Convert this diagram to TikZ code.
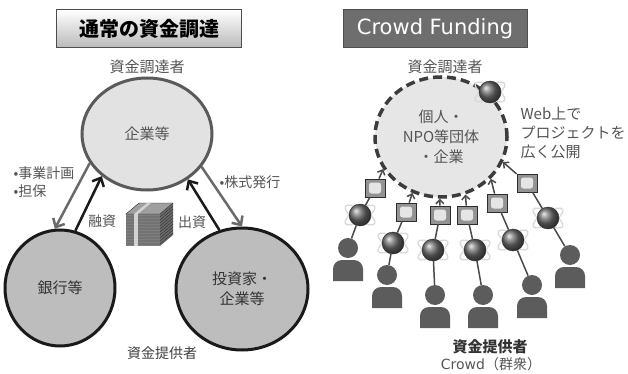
\documentclass[tikz,border=0pt]{standalone}
\usepackage{fontspec}
\setmainfont{Noto Sans CJK JP}
\newfontfamily\latinfont{DejaVu Sans}
\usetikzlibrary{shapes.geometric,arrows.meta}
\definecolor{txtgray}{HTML}{555555}
\definecolor{boxdark}{HTML}{6E6E6E}
\definecolor{boxline}{HTML}{4E4E4E}
\definecolor{corpfill}{HTML}{E2E2E2}
\definecolor{corpline}{HTML}{5A5A5A}
\definecolor{bankfill}{HTML}{BDBDBD}
\definecolor{bankline}{HTML}{1A1A1A}
\definecolor{crowdfill}{HTML}{E6E6E6}
\definecolor{dashcol}{HTML}{3C3C3C}
\definecolor{persongray}{HTML}{5C5C5C}
\definecolor{chaincol}{HTML}{4A4A4A}
\definecolor{arrowgray}{HTML}{6A6A6A}
\definecolor{notegray}{HTML}{7E7E7E}
\def\personbody(#1,#2){\fill[persongray] (#1-15,#2+33) [rounded corners=9pt] -- (#1-15,#2+12) -- (#1+15,#2+12) [sharp corners] -- (#1+15,#2+33) -- cycle;}

\begin{document}
\begin{tikzpicture}[x=1pt,y=-1pt,
  lbl/.style={font=\fontsize{14}{17}\selectfont,text=txtgray},
  bigoval/.style={ellipse,inner sep=0pt,line width=3pt,align=center,font=\fontsize{15}{20}\selectfont},
  grayarrow/.style={draw=arrowgray,line width=2.5pt,-{Straight Barb[length=7pt,width=13pt]}},
  blackarrow/.style={draw=bankline,line width=2.5pt,-{Straight Barb[length=7pt,width=13pt]}},
  globe/.style={circle,inner sep=0pt,minimum size=22pt,ball color=gray!85!black,draw=gray!30!black,line width=0.4pt},
  orbit/.style={draw=gray!30,line width=1.3pt},
  monitor/.style={rectangle,inner sep=0pt,minimum width=20pt,minimum height=18pt,fill=gray!85,draw=gray!35!black,line width=0.7pt},
  screen/.style={rectangle,rounded corners=2.5pt,inner sep=0pt,minimum width=12pt,minimum height=11pt,fill=gray!20},
  head/.style={circle,inner sep=0pt,minimum size=20pt,fill=persongray},
  chain/.style={draw=chaincol,line width=1.5pt}]
  %%%%% START %%%%%
  \fill[white] (0,0) rectangle (628,374);
  \useasboundingbox (0,0) rectangle (628,374);

  % ---- left: usual funding ----
  \node[rectangle,minimum width=185pt,minimum height=38pt,top color=white,bottom color=gray!55,draw=gray!60!black,line width=1pt,font=\fontsize{20}{24}\selectfont\bfseries] (usual) at (149,29) {通常の資金調達};
  \node[lbl,font=\fontsize{15}{18}\selectfont] (raiserL) at (147,67) {資金調達者};

  \node[bigoval,minimum width=130pt,minimum height=112pt,fill=corpfill,draw=corpline,text=txtgray] (corp) at (147,134) {企業等};
  \node[bigoval,minimum width=110pt,minimum height=116pt,fill=bankfill,draw=bankline,text=black!80] (bank) at (60,288) {銀行等};
  \node[bigoval,minimum width=132pt,minimum height=122pt,fill=bankfill,draw=bankline,text=black!80] (inv) at (242,289) {投資家・\\企業等};

  \draw[grayarrow] (corp.207) -- (bank.95);
  \draw[blackarrow] (bank.75) -- (corp.223);
  \draw[grayarrow] (corp.329) -- (inv.90);
  \draw[blackarrow] (inv.111) -- (corp.312);

  \node[lbl,anchor=west] (plan) at (10,173) {•事業計画};
  \node[lbl,anchor=west] (pledge) at (10,191) {•担保};
  \node[lbl,anchor=west] (stock) at (216,182) {•株式発行};
  \node[lbl] (loan) at (102,221) {融資};
  \node[lbl] (invest) at (192,222) {出資};

  % stack of notes
  \fill[gray!75] (126,214) -- (139,203) -- (173,203) -- (160,214) -- cycle;
  \fill[notegray] (126,214) rectangle (160,246);
  \fill[notegray!85!black] (160,214) -- (173,203) -- (173,235) -- (160,246) -- cycle;
  \foreach \k in {217,220,...,245}
    \draw[gray!35!black,line width=0.4pt] (126,\k) -- (160,\k) -- (173,\k-11);
  \draw[gray!30!black,line width=0.4pt] (126,214) -- (139,203) -- (173,203) -- (160,214) -- cycle;
  \fill[gray!35] (134,214) rectangle (138,246);
  \fill[gray!35] (134,214) -- (147,203) -- (151,203) -- (138,214) -- cycle;

  \node[lbl,text=black!75] (giverL) at (162,353) {資金提供者};

  % ---- right: crowd funding ----
  \node[rectangle,minimum width=184pt,minimum height=38pt,fill=boxdark,draw=boxline,line width=1pt,text=white,font=\latinfont\fontsize{21}{24}\selectfont] (cf) at (435,29) {Crowd Funding};
  \node[lbl,font=\fontsize{15}{18}\selectfont] (raiserR) at (445,67) {資金調達者};

  \node[bigoval,minimum width=132pt,minimum height=120pt,fill=crowdfill,draw=dashcol,line width=3.5pt,dash pattern=on 9pt off 5pt,text=txtgray] (crowd) at (441,137) {個人・\\NPO等団体\\・企業};

  \draw[orbit,rotate around={30:(490,92)}] (490,92) ellipse (17 and 6);
  \draw[orbit,rotate around={-30:(490,92)}] (490,92) ellipse (17 and 6);
  \node[globe] (g0) at (490,92) {};

  \node[lbl,anchor=west,align=left,font=\fontsize{15}{19}\selectfont] (web) at (517,133) {Web上で\\プロジェクトを\\広く公開};

  \foreach \i/\hx/\hy/\gx/\gy/\mx/\my/\ang in {1/348/248/360/215/375/188/209, 2/387/275/393/243/406/212/243, 3/435/295/433/250/440/215/269, 4/483/295/475/250/467/215/293, 5/532/285/513/240/497/203/320, 6/570/255/548/218/527/183/338}{
    \draw[orbit,rotate around={30:(\gx,\gy)}] (\gx,\gy) ellipse (17 and 6);
    \draw[orbit,rotate around={-30:(\gx,\gy)}] (\gx,\gy) ellipse (17 and 6);
    \node[globe] (g\i) at (\gx,\gy) {};
    \node[monitor] (m\i) at (\mx,\my) {};
    \node[screen] (s\i) at (\mx,\my) {};
    \node[head] (h\i) at (\hx,\hy) {};
    \personbody(\hx,\hy)
    \draw[chain] (h\i) -- (g\i) -- (m\i);
    \draw[chain,-{Straight Barb[length=4pt,width=8pt]}] (m\i) -- (crowd.\ang);
  }

  \node[lbl,text=black!80,font=\fontsize{15}{18}\selectfont\bfseries] (giverR) at (490,347) {資金提供者};
  \node[lbl] (crowdname) at (491,364) {{\latinfont Crowd}（群衆）};
  %%%%% END %%%%%
\end{tikzpicture}
\end{document}
